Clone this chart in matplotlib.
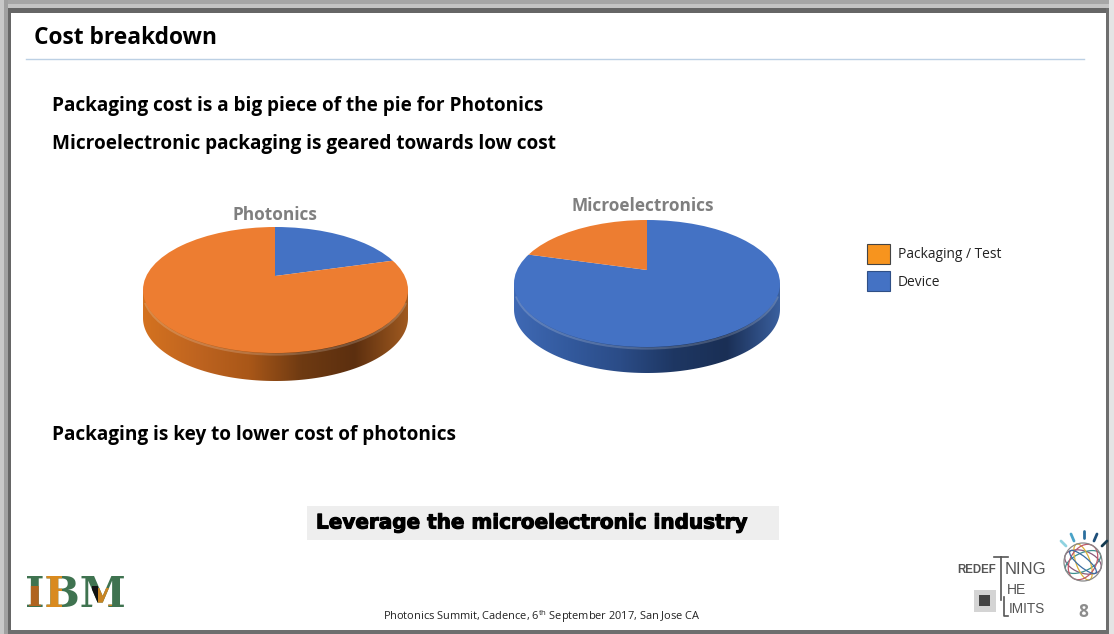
import numpy as np
import matplotlib
matplotlib.use("Agg")
import matplotlib.pyplot as plt
import matplotlib.patheffects as pe
from matplotlib.colors import LinearSegmentedColormap
from matplotlib.patches import Ellipse, Polygon, Rectangle, Arc

W, H = 1114, 634

# data
pie_titles = ["Photonics", "Microelectronics"]
legend_labels = ["Packaging / Test", "Device"]
photonics_values = [20, 80]       # Device, Packaging / Test (clockwise from 12 o'clock)
microelectronics_values = [80, 20]  # Device, Packaging / Test
bullets_top = ["Packaging cost is a big piece of the pie for Photonics",
               "Microelectronic packaging is geared towards low cost"]
bullet_bottom = "Packaging is key to lower cost of photonics"
callout = "Leverage the microelectronic industry"
footer = r"Photonics Summit, Cadence, 6$^{th}$ September 2017, San Jose CA"

ORANGE = "#ED7D31"
BLUE = "#4472C4"
FONT = "Open Sans"

plt.rcParams["font.family"] = [FONT, "DejaVu Sans"]
plt.rcParams["mathtext.default"] = "regular"

fig = plt.figure(figsize=(W / 100, H / 100), dpi=100, facecolor="white")
ax = fig.add_axes([0, 0, 1, 1])
ax.set_axis_off()


def reset_limits():
    ax.set_xlim(0, W)
    ax.set_ylim(H, 0)


def draw_pie(values, colors, cx, cy, rx, ry, apex, depth, side_stops):
    # side wall of the disc, a gradient clipped to the outline
    t = np.linspace(0, np.pi, 120)
    lower = np.column_stack([cx + rx * np.cos(t), cy + depth + ry * np.sin(t)])
    wall = np.vstack([lower, [[cx - rx, cy], [cx + rx, cy]]])
    clip = Polygon(wall, closed=True, transform=ax.transData, fc="none", ec="none")
    ax.add_patch(clip)
    cmap = LinearSegmentedColormap.from_list("side", side_stops)
    im = ax.imshow(np.linspace(0, 1, 256)[None, :], cmap=cmap, aspect="auto",
                   extent=(cx - rx, cx + rx, cy + ry + depth, cy - 5), zorder=2)
    im.set_clip_path(clip)
    reset_limits()
    # light rim under the top face
    ax.add_patch(Arc((cx, cy + 1.5), 2 * rx, 2 * ry, theta1=5, theta2=175,
                     color="white", alpha=0.18, lw=1.6, zorder=3))

    # top face: pie with its apex off the ellipse centre, clipped to the ellipse
    left, right, top, bottom = cx - rx - 2, cx + rx + 2, cy - ry - 2, cy + ry + 2
    pie_ax = fig.add_axes([left / W, 1 - bottom / H, (right - left) / W, (bottom - top) / H])
    sx, sy = rx, rx / 2.5
    wedges, _ = pie_ax.pie(values, colors=colors, startangle=90, counterclock=False, radius=5)
    pie_ax.set_aspect("auto")
    pie_ax.set_xlim((left - apex[0]) / sx, (right - apex[0]) / sx)
    pie_ax.set_ylim((apex[1] - bottom) / sy, (apex[1] - top) / sy)
    face = Ellipse(((cx - apex[0]) / sx, (apex[1] - cy) / sy), 2 * rx / sx, 2 * ry / sy,
                   fc="none", ec="none")
    pie_ax.add_patch(face)
    for w in wedges:
        w.set_clip_on(True)
        w.set_clip_path(face)
    pie_ax.patch.set_alpha(0)


# slide frame
for (x0, y0, x1, y1, c) in [(0, 0, W, 4, "#a6a6a6"), (0, 4, W, 8, "#c4c4c4"), (0, 8, W, 13, "#666666"),
                            (0, 0, 4, H, "#c8c8c8"), (4, 0, 8, H, "#a0a0a0"), (8, 8, 11, H, "#666666"),
                            (8, 630, 1108, 634, "#6e6e6e"), (1106, 8, 1109, 634, "#6e6e6e"),
                            (1109, 0, W, H, "#e4e4e4")]:
    ax.add_patch(Rectangle((x0, y0), x1 - x0, y1 - y0, fc=c, ec="none", zorder=1))

# title and rule
ax.text(34, 37.5, "Cost breakdown", fontsize=16.4, fontweight="bold", color="black", va="center", zorder=5)
ax.plot([26, 1084], [59, 59], color="#bcd0e4", lw=1, zorder=5)

# statements
for text_y, txt in zip([106, 144], bullets_top):
    ax.text(52, text_y, txt, fontsize=13.65, fontweight="bold", color="black", va="center", zorder=5)
ax.text(52, 435, bullet_bottom, fontsize=13.65, fontweight="bold", color="black", va="center", zorder=5)

# pies
orange_side = ["#d4721f", "#bf6420", "#a95718", "#6e3a12", "#5c2f0f", "#a05a20"]
blue_side = ["#3f69b4", "#335a9e", "#2b4c87", "#1e3763", "#1a2f55", "#3a5f9e"]
draw_pie(photonics_values, [BLUE, ORANGE], 275.5, 290, 132.5, 63, (275, 276), 28, orange_side)
draw_pie(microelectronics_values, [BLUE, ORANGE], 647, 283.5, 133, 63.5, (647, 270), 26, blue_side)
ax.text(275, 215, pie_titles[0], fontsize=12.4, fontweight="bold", color="#7f7f7f", ha="center", va="center", zorder=5)
ax.text(642.5, 206, pie_titles[1], fontsize=12.4, fontweight="bold", color="#7f7f7f", ha="center", va="center", zorder=5)

# legend
for sw_y, col, edge, lab in zip([244, 271], ["#F7941E", BLUE], ["#444444", "#2f4f86"], legend_labels):
    ax.add_patch(Rectangle((867, sw_y), 23, 19.5, fc=col, ec=edge, lw=0.8, zorder=5))
    ax.text(898, sw_y + 11, lab, fontsize=9.9, color="#222222", va="center", zorder=5)

# callout
ax.add_patch(Rectangle((307, 506), 472, 34, fc="#eeeeee", ec="none", zorder=3))
ax.text(316, 523, callout, fontsize=14.4, fontweight="bold", family=["DejaVu Sans"],
        color="black", va="center", zorder=5,
        path_effects=[pe.withStroke(linewidth=0.8, foreground="black")])

# footer and page number
ax.text(383, 617, footer, fontsize=7.95, color="#222222", va="center", zorder=5)
ax.text(1083, 612, "8", fontsize=12.5, fontweight="bold", color="#8c8c8c", ha="center", va="center", zorder=5)

# IBM logo: same word in layers, clipped to a few stripes
logo_kw = dict(fontsize=30, fontweight="bold", family=["DejaVu Serif"],
               ha="left", va="center", zorder=5)
logo_x, logo_y = 25, 595
ax.text(logo_x, logo_y, "IBM", color="#3f7350", **logo_kw)
for (x0, y0, x1, y1, c) in [(29, 586, 41, 606, "#b0641f"), (46, 574, 62, 616, "#d98a1f"), (98, 588, 112, 606, "#c98422"),
                            (92, 586, 98, 606, "#111111")]:
    t = ax.text(logo_x, logo_y, "IBM", color=c, **logo_kw)
    t.set_clip_on(True)
    t.set_clip_path(Rectangle((x0, y0), x1 - x0, y1 - y0, transform=ax.transData))

# Redefining the limits mark
mark_kw = dict(family=["Liberation Sans", "DejaVu Sans"], color="#555555", va="center", zorder=5)
ax.text(957, 570, "REDEF", fontsize=8.3, fontweight="bold", **mark_kw)
ax.text(1005, 570, "NING", fontsize=12, **mark_kw)
ax.text(1007, 590, "HE", fontsize=10, **mark_kw)
ax.text(1009, 609, "IMITS", fontsize=9.8, **mark_kw)
ax.plot([994, 1008], [557, 557], color="#555555", lw=1.2, zorder=5)
ax.plot([1001, 1001], [557, 600], color="#555555", lw=1.2, zorder=5)
ax.plot([1004, 1004, 1008], [597, 616, 616], color="#555555", lw=1.2, zorder=5)
ax.add_patch(Rectangle((974, 590), 22, 22, fc="#d4d4d4", ec="none", zorder=5))
ax.add_patch(Rectangle((979, 595), 11, 11, fc="#444444", ec="none", zorder=6))

# globe with rays
for angle, w_, h_, col in [(20, 38, 22, "#8a5a7a"), (-25, 38, 18, "#3f8f8f"), (70, 38, 14, "#d9b13a"),
                           (-60, 38, 26, "#c0586a"), (0, 38, 38, "#888888"), (40, 34, 10, "#3a6ea5")]:
    ax.add_patch(Ellipse((1083, 562), w_, h_, angle=angle, fc="none", ec=col, lw=0.9, zorder=5))
for (x0, y0, x1, y1, col) in [(1061, 541, 1066, 546, "#8fd3e0"), (1071, 534, 1074, 541, "#4aa3c8"),
                              (1084, 531, 1084, 538, "#2b6f9e"), (1097, 534, 1094, 541, "#1f4f7a"),
                              (1107, 541, 1102, 546, "#123a50")]:
    ax.plot([x0, x1], [y0, y1], color=col, lw=2, solid_capstyle="round", zorder=5)

reset_limits()
fig.savefig("out.png", dpi=100, facecolor="white")
